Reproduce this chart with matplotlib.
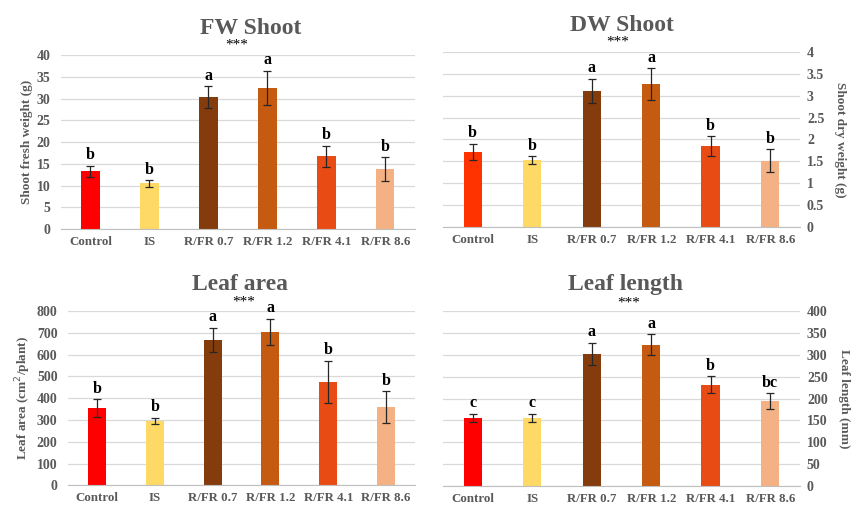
import matplotlib
matplotlib.use("Agg")
import matplotlib.pyplot as plt

# categories and colours
groups = ["Control", "IS", "R/FR 0.7", "R/FR 1.2", "R/FR 4.1", "R/FR 8.6"]
bar_colors = ["#FF0000", "#FFD966", "#843C0C", "#C55A11", "#E84C14", "#F4B183"]

# FW shoot (g)
fw_mean = [13.3, 10.5, 30.3, 32.4, 16.8, 13.8]
fw_err = [1.2, 0.7, 2.5, 3.9, 2.4, 2.7]
fw_letters = ["b", "b", "a", "a", "b", "b"]

# DW shoot (g)
dw_mean = [1.71, 1.52, 3.11, 3.27, 1.85, 1.51]
dw_err = [0.19, 0.09, 0.27, 0.36, 0.22, 0.26]
dw_letters = ["b", "b", "a", "a", "b", "b"]

# leaf area (cm2/plant)
la_mean = [355, 294, 668, 703, 475, 360]
la_err = [40, 14, 54, 60, 95, 72]
la_letters = ["b", "b", "a", "a", "b", "b"]

# leaf length (mm)
ll_mean = [155, 155, 302, 323, 232, 194]
ll_err = [9, 9, 25, 24, 19, 18]
ll_letters = ["c", "c", "a", "a", "b", "bc"]

GRAY = "#595959"
SERIF = ["Liberation Serif", "DejaVu Serif"]

fig = plt.figure(figsize=(8.61, 5.15), dpi=100)


def draw_panel(rect, means, errs, letters, ymax, step, ylabel, title, colors,
               right=False, title_x=0.5, star_xy=(0.5, 1.07)):
    ax = fig.add_axes(rect)
    if right:
        ax.yaxis.tick_right()
        ax.yaxis.set_label_position("right")
    x = list(range(len(groups)))
    ax.bar(x, means, width=0.31, color=colors, zorder=2)
    ax.errorbar(x, means, yerr=errs, fmt="none", ecolor="#262626",
                elinewidth=0.9, capsize=3.2, capthick=0.9, zorder=3)
    for xi, m, e, lab in zip(x, means, errs, letters):
        ax.annotate(lab, (xi, m + e), xytext=(0, 2), textcoords="offset points",
                    ha="center", va="bottom", fontsize=11.5, fontweight="bold",
                    family=SERIF, color="black")
    ax.set_xlim(-0.5, len(groups) - 0.5)
    ax.set_ylim(0, ymax)
    ticks = [i * step for i in range(int(round(ymax / step)) + 1)]
    ax.set_yticks(ticks)
    ax.set_yticklabels(["%g" % t for t in ticks])
    ax.set_xticks(x)
    ax.set_xticklabels(groups)
    ax.grid(axis="y", color="#D9D9D9", linewidth=0.9, zorder=0)
    ax.set_axisbelow(True)
    for s in ["top", "left", "right"]:
        ax.spines[s].set_visible(False)
    ax.spines["bottom"].set_color("#BFBFBF")
    ax.tick_params(length=0, labelcolor=GRAY)
    ax.tick_params(axis="x", labelsize=9.3, pad=5)
    ax.tick_params(axis="y", labelsize=10, pad=5 if right else 7.5)
    for t in ax.get_xticklabels() + ax.get_yticklabels():
        t.set_family(SERIF)
        t.set_fontweight("bold")
    if right:
        ax.set_ylabel(ylabel, rotation=-90, labelpad=16, fontsize=9.5,
                      fontweight="bold", color=GRAY, family=SERIF)
    else:
        ax.set_ylabel(ylabel, fontsize=9.5, fontweight="bold", color=GRAY,
                      family=SERIF, labelpad=3)
    ax.text(title_x, 1.155, title, transform=ax.transAxes, ha="center",
            va="center", fontsize=17, fontweight="bold", color=GRAY, family=SERIF)
    ax.text(star_xy[0], star_xy[1], "***", transform=ax.transAxes, ha="center",
            va="center", fontsize=11, color="black", family=SERIF)
    return ax


draw_panel([0.0708, 0.555, 0.411, 0.338], fw_mean, fw_err, fw_letters, 40, 5,
           "Shoot fresh weight (g)", "FW Shoot", bar_colors,
           title_x=0.535, star_xy=(0.497, 1.06))

dw_colors = ["#FF3300"] + bar_colors[1:]
draw_panel([0.5145, 0.56, 0.4146, 0.3386], dw_mean, dw_err, dw_letters, 4, 0.5,
           "Shoot dry weight (g)", "DW Shoot", dw_colors, right=True,
           title_x=0.502, star_xy=(0.49, 1.06))

draw_panel([0.079, 0.0577, 0.403, 0.338], la_mean, la_err, la_letters, 800, 100,
           "Leaf area (cm$^{2}$/plant)", "Leaf area", bar_colors,
           title_x=0.497, star_xy=(0.505, 1.05))

draw_panel([0.5145, 0.0568, 0.4146, 0.3386], ll_mean, ll_err, ll_letters, 400, 50,
           "Leaf length (mm)", "Leaf length", bar_colors, right=True,
           title_x=0.511, star_xy=(0.52, 1.045))

fig.savefig("out.png", dpi=100)
